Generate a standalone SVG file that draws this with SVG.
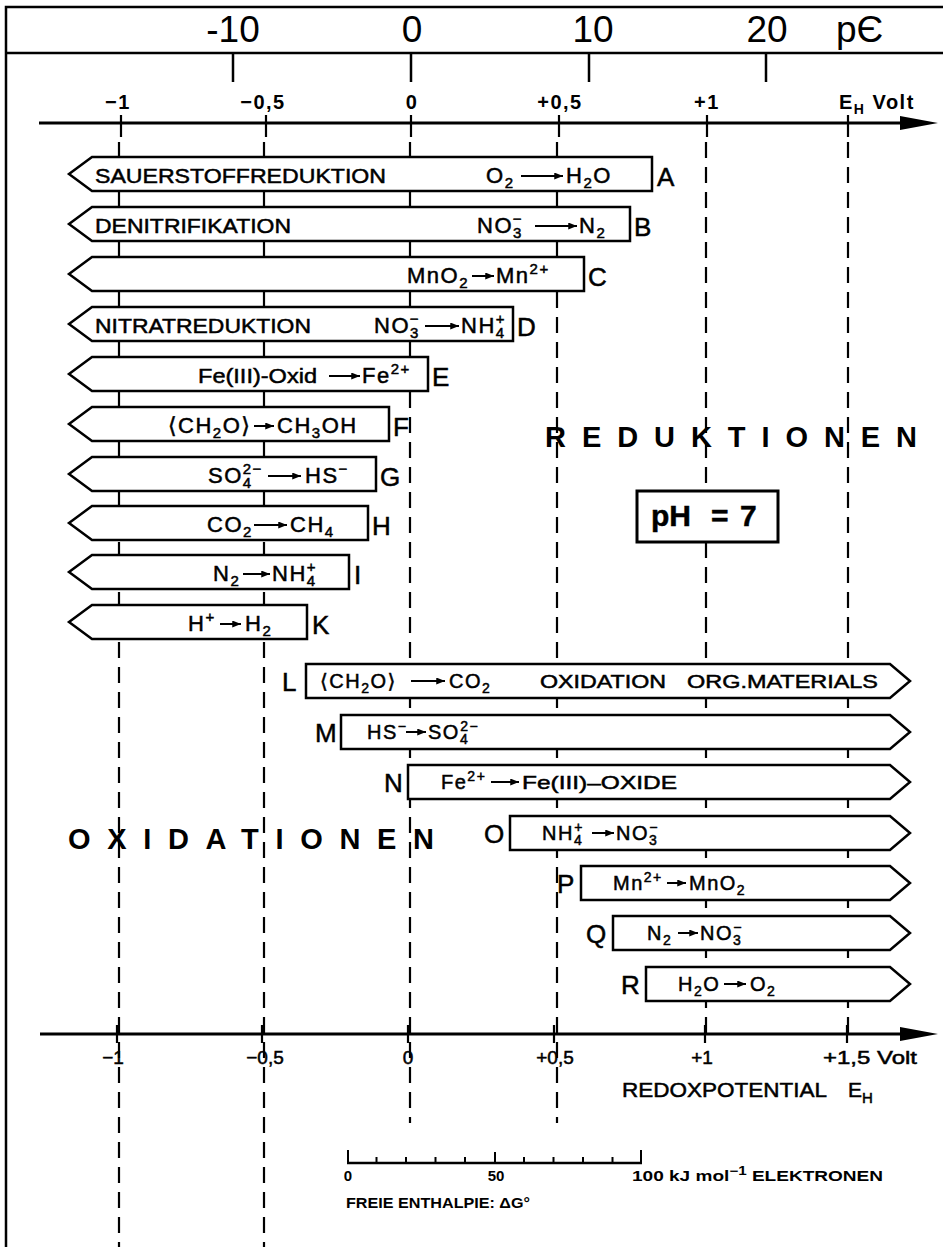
<svg xmlns="http://www.w3.org/2000/svg" width="943" height="1247" viewBox="0 0 943 1247">
<defs>
<style>
text{font-family:"Liberation Sans",Arial,"DejaVu Sans",sans-serif;fill:#000;stroke:#000;stroke-width:0.5}
.f21{font-size:21px}
.f22{font-size:22px;letter-spacing:1.5px}
.f20{font-size:20px;letter-spacing:1.5px}
.f19{font-size:19px}
.s{font-size:15px}
.s14{font-size:14px}
.lab{font-size:26px}
.big{font-size:29px;font-weight:bold;stroke-width:0}
.bar{fill:#fff;stroke:#000;stroke-width:2.5;stroke-linejoin:miter}
.dash{stroke:#000;stroke-width:2.2;stroke-dasharray:16 9;fill:none}
.ln{stroke:#000;fill:none}
.ar{stroke:#000;stroke-width:2;marker-end:url(#ah)}
.pe{font-size:37px;stroke-width:0}
.ax{font-size:20px;font-weight:bold;stroke-width:0;letter-spacing:1.5px}
.axb{font-size:19px}
.sm{font-size:15px;font-weight:bold;stroke-width:0}
</style>
<marker id="ah" viewBox="0 0 10 8" refX="10" refY="4" markerWidth="10" markerHeight="7" markerUnits="userSpaceOnUse" orient="auto"><path d="M0 0L10 4L0 8Z"/></marker>
</defs>
<rect width="943" height="1247" fill="#fff"/>

<g id="frame">
<path class="ln" stroke-width="2.5" d="M6 1247V7H943"/>
<path class="ln" stroke-width="2.5" d="M6 53H943"/>
</g>

<g id="pe-axis">
<path class="ln" stroke-width="2.5" d="M233 53V82M411 53V82M589 53V82M766 53V82"/>
<text class="pe" x="233" y="42" text-anchor="middle">-10</text>
<text class="pe" x="412" y="42" text-anchor="middle">0</text>
<text class="pe" x="593" y="42" text-anchor="middle">10</text>
<text class="pe" x="767" y="42" text-anchor="middle">20</text>
<text class="pe" x="836" y="42" font-size="34">pЄ</text>
</g>

<g id="eh-axis-top">
<path class="ln" stroke-width="3" d="M39 123H905"/>
<polygon points="900,116 938,123 900,130"/>
<path class="ln" stroke-width="2.2" d="M121 115V137M266 115V137M411 115V137M559 115V137M707 115V137M848 115V137"/>
<text class="ax" x="118" y="109" text-anchor="middle">−1</text>
<text class="ax" x="263" y="109" text-anchor="middle">−0,5</text>
<text class="ax" x="412" y="109" text-anchor="middle">0</text>
<text class="ax" x="560" y="109" text-anchor="middle">+0,5</text>
<text class="ax" x="707" y="109" text-anchor="middle">+1</text>
<text class="ax" x="839" y="109" letter-spacing="0.5">E<tspan font-size="14" dy="5">H</tspan><tspan dy="-5"> Volt</tspan></text>
</g>

<g id="gridlines">
<path class="dash" d="M119 142V1247"/>
<path class="dash" d="M264 142V1247"/>
<path class="dash" d="M410 142V1123"/>
<path class="dash" d="M557 142V1123"/>
<path class="dash" d="M706 142V1034"/>
<path class="dash" d="M848 142V1034"/>
</g>

<g id="bar-A">
<path class="bar" d="M69 174L92 157H652V191H92Z"/>
<text class="f21" x="95" y="183" textLength="291" lengthAdjust="spacingAndGlyphs">SAUERSTOFFREDUKTION</text>
<text class="f22" x="486" y="183">O<tspan class="s" dy="5">2</tspan></text>
<line class="ar" x1="521" y1="176" x2="563" y2="176"/>
<text class="f22" x="566" y="183">H<tspan class="s" dy="5">2</tspan><tspan dy="-5">O</tspan></text>
<text class="lab" x="657" y="186">A</text>
</g>

<g id="bar-B">
<path class="bar" d="M69 224L92 207H630V241H92Z"/>
<text class="f21" x="95" y="233" textLength="196" lengthAdjust="spacingAndGlyphs">DENITRIFIKATION</text>
<text class="f22" x="477" y="233">NO<tspan class="s" dy="5">3</tspan><tspan class="s" dx="-10" dy="-14">−</tspan></text>
<line class="ar" x1="535" y1="226" x2="577" y2="226"/>
<text class="f22" x="579" y="233">N<tspan class="s" dy="5">2</tspan></text>
<text class="lab" x="634" y="236">B</text>
</g>

<g id="bar-C">
<path class="bar" d="M69 274L92 257H584V291H92Z"/>
<text class="f22" x="407" y="283">MnO<tspan class="s" dy="5">2</tspan></text>
<line class="ar" x1="472" y1="276" x2="494" y2="276"/>
<text class="f22" x="496" y="283">Mn<tspan class="s" dy="-9">2+</tspan></text>
<text class="lab" x="588" y="286">C</text>
</g>

<g id="bar-D">
<path class="bar" d="M69 324L92 307H513V341H92Z"/>
<text class="f21" x="95" y="333" textLength="216" lengthAdjust="spacingAndGlyphs">NITRATREDUKTION</text>
<text class="f22" x="374" y="333">NO<tspan class="s" dy="5">3</tspan><tspan class="s" dx="-10" dy="-14">−</tspan></text>
<line class="ar" x1="425" y1="326" x2="459" y2="326"/>
<text class="f22" x="461" y="333">NH<tspan class="s" dy="5">4</tspan><tspan class="s" dx="-10" dy="-14">+</tspan></text>
<text class="lab" x="517" y="336">D</text>
</g>

<g id="bar-E">
<path class="bar" d="M69 374L92 357H428V391H92Z"/>
<text class="f21" x="198" y="383" textLength="119" lengthAdjust="spacingAndGlyphs">Fe(III)-Oxid</text>
<line class="ar" x1="329" y1="376" x2="360" y2="376"/>
<text class="f22" x="362" y="383">Fe<tspan class="s" dy="-9">2+</tspan></text>
<text class="lab" x="432" y="386">E</text>
</g>

<g id="bar-F">
<path class="bar" d="M69 424L92 407H389V441H92Z"/>
<text class="f22" x="168" y="433">⟨CH<tspan class="s" dy="5">2</tspan><tspan dy="-5">O⟩</tspan></text>
<line class="ar" x1="254" y1="426" x2="274" y2="426"/>
<text class="f22" x="277" y="433">CH<tspan class="s" dy="5">3</tspan><tspan dy="-5">OH</tspan></text>
<text class="lab" x="393" y="436">F</text>
</g>

<g id="bar-G">
<path class="bar" d="M69 474L92 457H376V491H92Z"/>
<text class="f22" x="208" y="483">SO<tspan class="s" dy="5">4</tspan><tspan class="s" dx="-10" dy="-14">2−</tspan></text>
<line class="ar" x1="268" y1="476" x2="301" y2="476"/>
<text class="f22" x="305" y="483">HS<tspan class="s" dy="-9">−</tspan></text>
<text class="lab" x="380" y="486">G</text>
</g>

<g id="bar-H">
<path class="bar" d="M69 523L92 506H368V540H92Z"/>
<text class="f22" x="207" y="532">CO<tspan class="s" dy="5">2</tspan></text>
<line class="ar" x1="254" y1="525" x2="287" y2="525"/>
<text class="f22" x="290" y="532">CH<tspan class="s" dy="5">4</tspan></text>
<text class="lab" x="372" y="535">H</text>
</g>

<g id="bar-I">
<path class="bar" d="M69 572L92 555H349V589H92Z"/>
<text class="f22" x="213" y="581">N<tspan class="s" dy="5">2</tspan></text>
<line class="ar" x1="243" y1="574" x2="270" y2="574"/>
<text class="f22" x="272" y="581">NH<tspan class="s" dy="5">4</tspan><tspan class="s" dx="-10" dy="-14">+</tspan></text>
<text class="lab" x="354" y="584">I</text>
</g>

<g id="bar-K">
<path class="bar" d="M69 622L92 605H307V639H92Z"/>
<text class="f22" x="188" y="631">H<tspan class="s" dy="-9">+</tspan></text>
<line class="ar" x1="220" y1="624" x2="241" y2="624"/>
<text class="f22" x="245" y="631">H<tspan class="s" dy="5">2</tspan></text>
<text class="lab" x="312" y="634">K</text>
</g>

<g id="label-reduktionen">
<text class="big" x="545" y="447" textLength="372" lengthAdjust="spacing">REDUKTIONEN</text>
</g>

<g id="ph-box">
<rect x="637" y="491" width="141" height="51" fill="#fff" stroke="#000" stroke-width="3"/>
<text x="651" y="526" font-size="30" font-weight="bold" stroke-width="0">pH<tspan x="711">=</tspan><tspan x="740">7</tspan></text>
</g>

<g id="bar-L">
<path class="bar" d="M306 664H890L910 681L890 698H306Z"/>
<text class="lab" x="282" y="691">L</text>
<text class="f20" x="320" y="688">⟨CH<tspan class="s14" dy="5">2</tspan><tspan dy="-5">O⟩</tspan></text>
<line class="ar" x1="411" y1="681" x2="445" y2="681"/>
<text class="f20" x="449" y="688">CO<tspan class="s14" dy="5">2</tspan></text>
<text class="f19" x="540" y="688" textLength="126" lengthAdjust="spacingAndGlyphs">OXIDATION</text>
<text class="f19" x="687" y="688" textLength="191" lengthAdjust="spacingAndGlyphs">ORG.MATERIALS</text>
</g>

<g id="bar-M">
<path class="bar" d="M341 715H890L910 732L890 749H341Z"/>
<text class="lab" x="315" y="742">M</text>
<text class="f20" x="367" y="739">HS<tspan class="s14" dy="-8">−</tspan></text>
<line class="ar" x1="406" y1="732" x2="426" y2="732"/>
<text class="f20" x="428" y="739">SO<tspan class="s14" dy="5">4</tspan><tspan class="s14" dx="-9" dy="-13">2−</tspan></text>
</g>

<g id="bar-N">
<path class="bar" d="M408 765H890L910 782L890 799H408Z"/>
<text class="lab" x="384" y="792">N</text>
<text class="f20" x="441" y="789">Fe<tspan class="s14" dy="-8">2+</tspan></text>
<line class="ar" x1="491" y1="782" x2="519" y2="782"/>
<text class="f19" x="522" y="789" textLength="155" lengthAdjust="spacingAndGlyphs">Fe(III)–OXIDE</text>
</g>

<g id="label-oxidationen">
<text class="big" x="68" y="849" textLength="366" lengthAdjust="spacing">OXIDATIONEN</text>
</g>

<g id="bar-O">
<path class="bar" d="M510 816H890L910 833L890 850H510Z"/>
<text class="lab" x="484" y="843">O</text>
<text class="f20" x="542" y="840">NH<tspan class="s14" dy="5">4</tspan><tspan class="s14" dx="-9" dy="-13">+</tspan></text>
<line class="ar" x1="592" y1="833" x2="614" y2="833"/>
<text class="f20" x="616" y="840">NO<tspan class="s14" dy="5">3</tspan><tspan class="s14" dx="-9" dy="-13">−</tspan></text>
</g>

<g id="bar-P">
<path class="bar" d="M581 866H890L910 883L890 900H581Z"/>
<text class="lab" x="557" y="893">P</text>
<text class="f20" x="613" y="890">Mn<tspan class="s14" dy="-8">2+</tspan></text>
<line class="ar" x1="667" y1="883" x2="686" y2="883"/>
<text class="f20" x="689" y="890">MnO<tspan class="s14" dy="5">2</tspan></text>
</g>

<g id="bar-Q">
<path class="bar" d="M613 916H890L910 933L890 950H613Z"/>
<text class="lab" x="586" y="943">Q</text>
<text class="f20" x="647" y="940">N<tspan class="s14" dy="5">2</tspan></text>
<line class="ar" x1="678" y1="933" x2="698" y2="933"/>
<text class="f20" x="700" y="940">NO<tspan class="s14" dy="5">3</tspan><tspan class="s14" dx="-9" dy="-13">−</tspan></text>
</g>

<g id="bar-R">
<path class="bar" d="M646 967H890L910 984L890 1001H646Z"/>
<text class="lab" x="621" y="994">R</text>
<text class="f20" x="678" y="991">H<tspan class="s14" dy="5">2</tspan><tspan dy="-5">O</tspan></text>
<line class="ar" x1="724" y1="984" x2="746" y2="984"/>
<text class="f20" x="750" y="991">O<tspan class="s14" dy="5">2</tspan></text>
</g>

<g id="eh-axis-bottom">
<path class="ln" stroke-width="3" d="M40 1034H905"/>
<polygon points="900,1027 938,1034 900,1041"/>
<path class="ln" stroke-width="2.2" d="M117 1025V1043M262 1025V1043M408 1025V1043M554 1025V1043M705 1025V1043M847 1025V1043"/>
<text class="axb" x="113" y="1064" text-anchor="middle">−1</text>
<text class="axb" x="265" y="1064" text-anchor="middle">−0,5</text>
<text class="axb" x="408" y="1064" text-anchor="middle">0</text>
<text class="axb" x="555" y="1064" text-anchor="middle">+0,5</text>
<text class="axb" x="702" y="1064" text-anchor="middle">+1</text>
<text class="axb" x="823" y="1064" textLength="94" lengthAdjust="spacingAndGlyphs">+1,5 Volt</text>
<text class="f21" x="622" y="1097" textLength="205" lengthAdjust="spacingAndGlyphs">REDOXPOTENTIAL</text>
<text class="f21" x="848" y="1097">E<tspan class="s" dy="6">H</tspan></text>
</g>

<g id="energy-scale">
<path class="ln" stroke-width="2.5" d="M347 1163H642"/>
<path class="ln" stroke-width="2" d="M348 1163V1150M376.5 1163V1157M406 1163V1157M435.5 1163V1157M465 1163V1157M495 1163V1152M524 1163V1157M553.5 1163V1157M583 1163V1157M612.5 1163V1157M641 1163V1150"/>
<text class="sm" x="348" y="1181" text-anchor="middle">0</text>
<text class="sm" x="496" y="1181" text-anchor="middle">50</text>
<text class="sm" x="632" y="1181" textLength="251" lengthAdjust="spacingAndGlyphs">100 kJ mol<tspan font-size="12" dy="-6">−1</tspan><tspan dy="6"> ELEKTRONEN</tspan></text>
<text class="sm" x="346" y="1208" textLength="184" lengthAdjust="spacingAndGlyphs">FREIE ENTHALPIE: ΔG°</text>
</g>
</svg>
